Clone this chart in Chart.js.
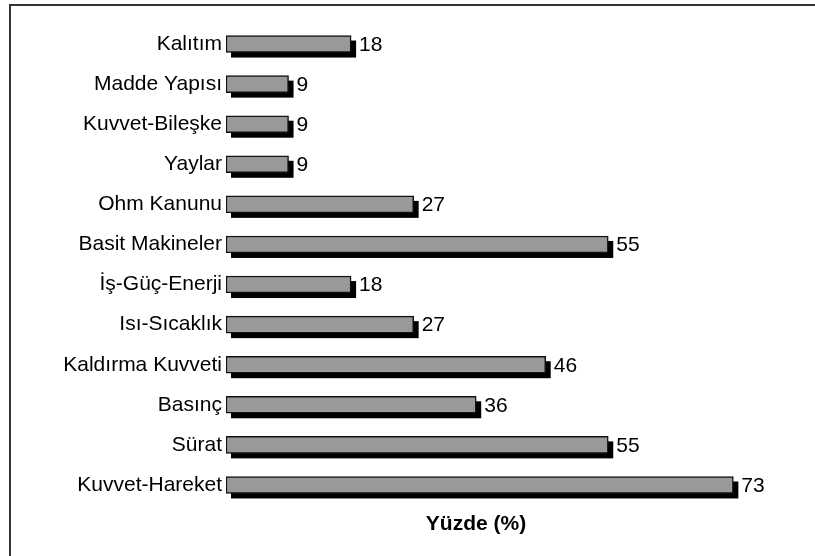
<!DOCTYPE html>
<html>
<head>
<meta charset="utf-8">
<script src="https://cdn.jsdelivr.net/npm/chart.js@4/dist/chart.umd.min.js"></script>
<style>
  html, body { margin: 0; padding: 0; background: #fff; }
  #wrap { width: 815px; height: 556px; position: relative; }
</style>
</head>
<body>
<div id="wrap"><canvas id="c" width="815" height="556"></canvas></div>
<script>
const categories = ["Kalıtım", "Madde Yapısı", "Kuvvet-Bileşke", "Yaylar", "Ohm Kanunu", "Basit Makineler", "İş-Güç-Enerji", "Isı-Sıcaklık", "Kaldırma Kuvveti", "Basınç", "Sürat", "Kuvvet-Hareket"];
const values = [18, 9, 9, 9, 27, 55, 18, 27, 46, 36, 55, 73];
const axisTitle = "Yüzde (%)";

const FONT = "'Liberation Sans', Arial, sans-serif";

const framePlugin = {
  id: 'frame',
  beforeDraw(chart) {
    const ctx = chart.ctx;
    ctx.save();
    ctx.fillStyle = '#fff';
    ctx.fillRect(0, 0, chart.width, chart.height);
    ctx.strokeStyle = '#333';
    ctx.lineWidth = 2;
    ctx.strokeRect(10, 5, chart.width + 50, chart.height + 50);
    ctx.restore();
  },
  afterDraw(chart) {
    const ctx = chart.ctx;
    ctx.save();
    ctx.fillStyle = '#000';
    ctx.font = "bold 21px " + FONT;
    ctx.textAlign = 'center';
    ctx.textBaseline = 'middle';
    ctx.fillText(axisTitle, 476, 524);
    ctx.restore();
  }
};

const shadowPlugin = {
  id: 'barShadow',
  beforeDatasetsDraw(chart) {
    const ctx = chart.ctx;
    const meta = chart.getDatasetMeta(0);
    ctx.save();
    ctx.fillStyle = '#000';
    meta.data.forEach(el => {
      const p = el.getProps(['x', 'y', 'base', 'height'], true);
      ctx.fillRect(p.base + 5, p.y - p.height / 2 + 5, p.x - p.base, p.height);
    });
    ctx.restore();
  },
  afterDatasetsDraw(chart) {
    const ctx = chart.ctx;
    const meta = chart.getDatasetMeta(0);
    ctx.save();
    ctx.fillStyle = '#000';
    ctx.font = "21px " + FONT;
    ctx.textAlign = 'left';
    ctx.textBaseline = 'middle';
    meta.data.forEach((el, i) => {
      const p = el.getProps(['x', 'y'], true);
      ctx.fillText(String(values[i]), p.x + 8, p.y + 1);
    });
    ctx.restore();
  }
};

new Chart(document.getElementById('c'), {
  type: 'bar',
  data: {
    labels: categories,
    datasets: [{
      data: values,
      backgroundColor: '#999999',
      borderColor: '#111111',
      borderWidth: 1.5,
      borderSkipped: false,
      barThickness: 17
    }]
  },
  options: {
    indexAxis: 'y',
    responsive: false,
    animation: false,
    events: [],
    layout: { padding: { top: 24, bottom: 51, left: 0, right: 33 } },
    plugins: { legend: { display: false }, tooltip: { enabled: false }, title: { display: false } },
    scales: {
      x: { display: false, min: 0, max: 80 },
      y: {
        grid: { display: false, drawTicks: false },
        border: { display: false },
        ticks: { color: '#000', font: { family: FONT, size: 21 }, padding: 4 },
        afterFit(scale) { scale.width = 226; }
      }
    }
  },
  plugins: [framePlugin, shadowPlugin]
});
</script>
</body>
</html>
